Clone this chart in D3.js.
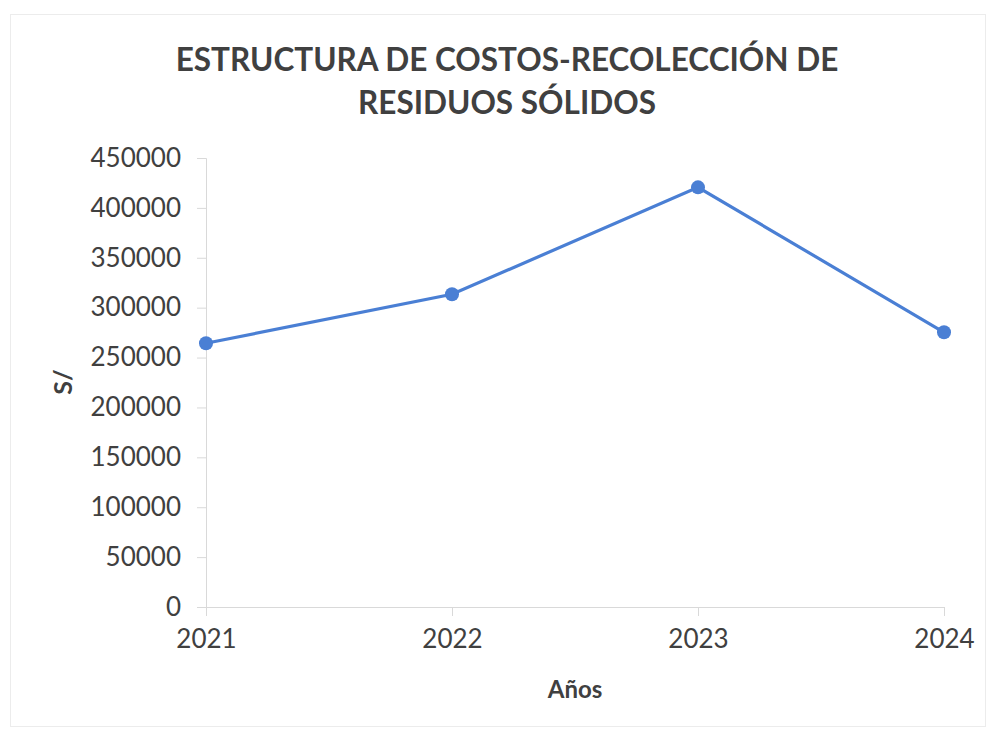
<!DOCTYPE html>
<html><head><meta charset="utf-8">
<script src="https://cdn.jsdelivr.net/npm/d3@7"></script>
<style>body{margin:0;background:#fff}svg{display:block}</style>
</head><body>
<svg id="c" width="989" height="732"></svg>
<script>
const years = ["2021", "2022", "2023", "2024"];
const costs = [264300, 313400, 420600, 275300];
const yTicks = [0, 50000, 100000, 150000, 200000, 250000, 300000, 350000, 400000, 450000];
const titleLines = ["ESTRUCTURA DE COSTOS-RECOLECCIÓN DE", "RESIDUOS SÓLIDOS"];

const svg = d3.select("#c");
const font = "Lato, 'Open Sans', sans-serif";
const txt = "#404040", axisCol = "#d9d9d9", lineCol = "#4a7fd4";

svg.append("rect").attr("x", 10.5).attr("y", 14.5).attr("width", 975).attr("height", 712)
  .attr("fill", "none").attr("stroke", "#ececec");

const x = d3.scalePoint().domain(years).range([206, 944]);
const y = d3.scaleLinear().domain([0, 450000]).range([607, 158]);

svg.selectAll(".title").data(titleLines).enter().append("text")
  .attr("x", 507).attr("y", (d, i) => 71 + i * 43)
  .attr("text-anchor", "middle").attr("font-family", font).attr("font-weight", "bold")
  .attr("font-size", 31.5).attr("fill", txt).text(d => d);

const yAxis = svg.append("g").attr("transform", "translate(206,0)")
  .call(d3.axisLeft(y).tickValues(yTicks).tickSize(9).tickPadding(16).tickFormat(d3.format("d")));
yAxis.select(".domain").attr("stroke", axisCol);
yAxis.selectAll(".tick line").attr("stroke", axisCol);
yAxis.selectAll("text").attr("font-family", font).attr("font-size", 26).attr("fill", txt);

const xAxis = svg.append("g").attr("transform", "translate(0,607)")
  .call(d3.axisBottom(x).tickSize(9).tickPadding(14).tickSizeOuter(0));
xAxis.select(".domain").attr("stroke", axisCol);
xAxis.selectAll(".tick line").attr("stroke", axisCol);
xAxis.selectAll("text").attr("font-family", font).attr("font-size", 26).attr("fill", txt);

const line = d3.line().x((d, i) => x(years[i])).y(d => y(d));
svg.append("path").datum(costs).attr("d", line).attr("fill", "none")
  .attr("stroke", lineCol).attr("stroke-width", 3.2);
svg.selectAll(".pt").data(costs).enter().append("circle")
  .attr("cx", (d, i) => x(years[i])).attr("cy", d => y(d)).attr("r", 7)
  .attr("fill", lineCol);

svg.append("text").attr("x", 575).attr("y", 698).attr("text-anchor", "middle")
  .attr("font-family", font).attr("font-weight", "bold").attr("font-size", 24)
  .attr("fill", txt).text("Años");
svg.append("text").attr("transform", "translate(72,382) rotate(-90)").attr("text-anchor", "middle")
  .attr("font-family", font).attr("font-weight", "bold").attr("font-size", 25)
  .attr("fill", txt).text("S/");
</script>
</body></html>
